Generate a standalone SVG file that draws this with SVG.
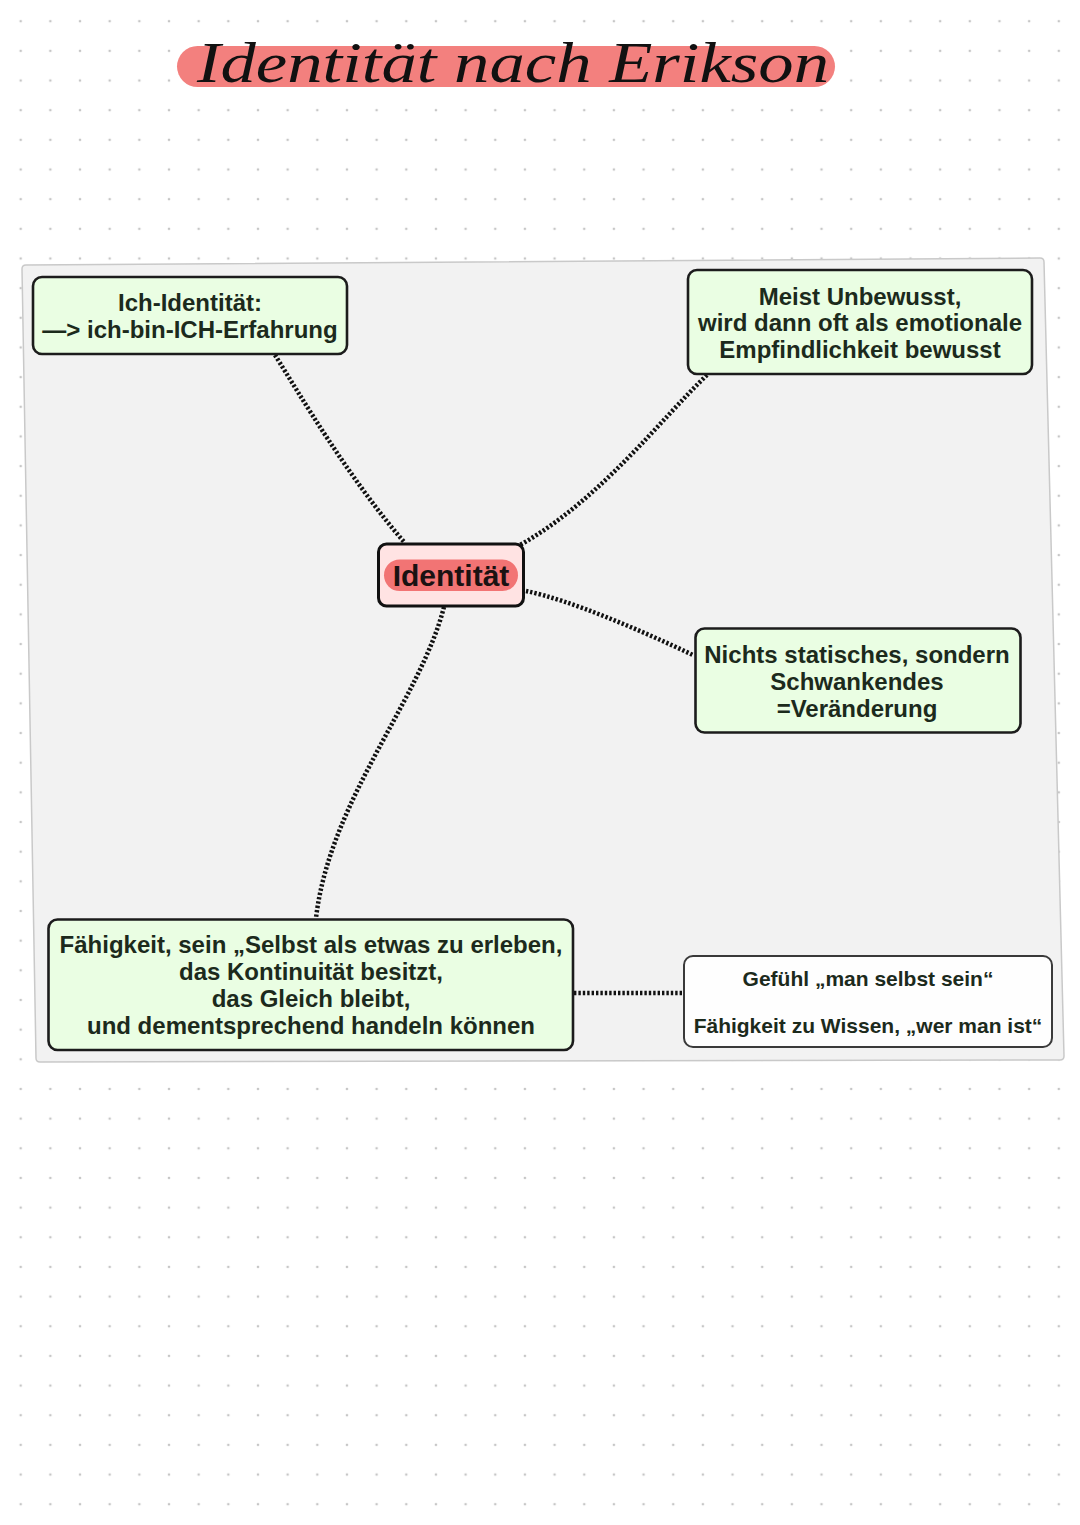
<svg xmlns="http://www.w3.org/2000/svg" width="1080" height="1525" viewBox="0 0 1080 1525">
<style>
.node-green{fill:#eafee3;stroke:#1c1c1c;stroke-width:2.6}
.t{font-family:"Liberation Sans",Arial,sans-serif;font-weight:bold;font-size:24px;fill:#1c2a1c;text-anchor:middle}
.t.small{font-size:21px}
.conn{fill:none;stroke:#111;stroke-width:4.5;stroke-dasharray:2.4 2}
</style>
<defs>
<pattern id="dots" x="5.87" y="6.37" width="29.66" height="29.66" patternUnits="userSpaceOnUse">
<circle cx="14.83" cy="14.83" r="1.3" fill="#c6c6c6"/>
</pattern>
</defs>
<rect width="1080" height="1525" fill="#ffffff"/>
<rect width="1080" height="1525" fill="url(#dots)"/>

<g id="title">
<rect x="177" y="46" width="658" height="41" rx="20.5" fill="#f3807e"/>
<text x="197" y="82" font-family="Liberation Serif, serif" font-style="italic" font-size="58" fill="#111" textLength="632" lengthAdjust="spacingAndGlyphs">Identität nach Erikson</text>
</g>

<g id="panel">
<path d="M26,265 L1040,258 Q1044,258 1044,262 L1064,1056 Q1064,1060 1060,1060 L40,1062 Q36,1062 36,1058 L22,269 Q22,265 26,265 Z" fill="#f2f2f2" stroke="#c9c9c9" stroke-width="1.5"/>
</g>

<g id="connectors">
<path class="conn" d="M275,355 C300,395 350,480 405,543"/>
<path class="conn" d="M707,375 C660,420 600,500 520,545"/>
<path class="conn" d="M526,591 C570,600 640,630 693,655"/>
<path class="conn" d="M444,607 C420,700 330,800 316,918"/>
<path class="conn" d="M574,993 L684,993"/>
</g>

<g id="node-ich">
<rect class="node-green" x="33" y="277" width="314" height="77" rx="9"/>
<text class="t" x="190" y="311">Ich-Identität:</text>
<text class="t" x="190" y="338">—&gt; ich-bin-ICH-Erfahrung</text>
</g>

<g id="node-meist">
<rect class="node-green" x="688" y="270" width="344" height="104" rx="9"/>
<text class="t" x="860" y="305">Meist Unbewusst,</text>
<text class="t" x="860" y="331">wird dann oft als emotionale</text>
<text class="t" x="860" y="358">Empfindlichkeit bewusst</text>
</g>

<g id="node-identitaet">
<rect x="378.5" y="544" width="145" height="62" rx="8" fill="#ffe3e3" stroke="#111" stroke-width="3"/>
<rect x="384" y="559.5" width="134" height="31.5" rx="15.7" fill="#f27474"/>
<text x="451" y="586" font-family="Liberation Sans, Arial, sans-serif" font-weight="bold" font-size="30" fill="#1a1212" text-anchor="middle">Identität</text>
</g>

<g id="node-nichts">
<rect class="node-green" x="695.5" y="628.5" width="325" height="104" rx="9"/>
<text class="t" x="857" y="663">Nichts statisches, sondern</text>
<text class="t" x="857" y="690">Schwankendes</text>
<text class="t" x="857" y="717">=Veränderung</text>
</g>

<g id="node-faehigkeit">
<rect class="node-green" x="48.5" y="919.5" width="524.5" height="130.5" rx="9"/>
<text class="t" x="311" y="953">Fähigkeit, sein „Selbst als etwas zu erleben,</text>
<text class="t" x="311" y="980">das Kontinuität besitzt,</text>
<text class="t" x="311" y="1007">das Gleich bleibt,</text>
<text class="t" x="311" y="1034">und dementsprechend handeln können</text>
</g>

<g id="node-gefuehl">
<rect x="684" y="956" width="368" height="91" rx="9" fill="#fefefe" stroke="#3a3a3a" stroke-width="2"/>
<text class="t small" x="868" y="986">Gefühl „man selbst sein“</text>
<text class="t small" x="868" y="1033">Fähigkeit zu Wissen, „wer man ist“</text>
</g>
</svg>
